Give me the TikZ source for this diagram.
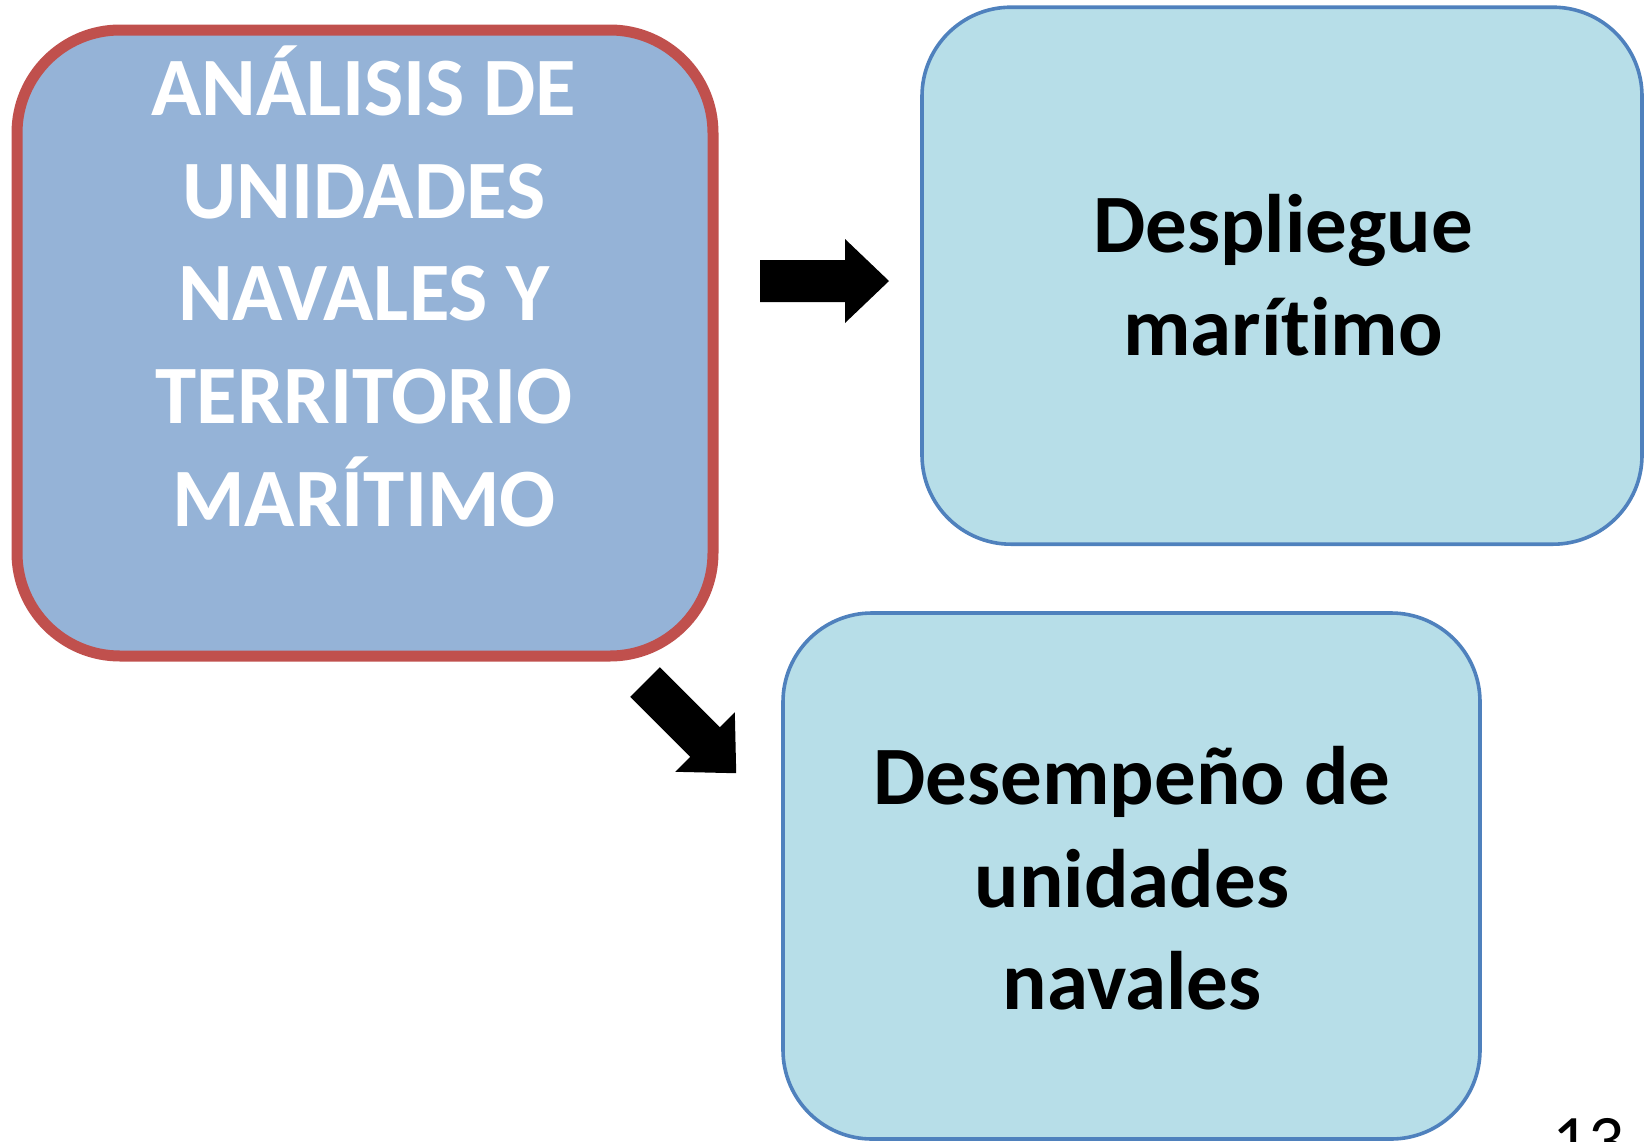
\documentclass[tikz,border=0pt]{standalone}
\usepackage{fontspec}
\setmainfont[Ligatures=NoCommon]{Carlito}

\definecolor{boxred}{HTML}{C0504D}
\definecolor{boxblue}{HTML}{95B3D7}
\definecolor{lineblue}{HTML}{4F81BD}
\definecolor{boxcyan}{HTML}{B7DEE8}

\tikzset{
  mainbox/.style={draw=boxred, fill=boxblue, line width=5.5pt, rounded corners=51.5pt, inner sep=0pt},
  sidebox/.style={draw=lineblue, fill=boxcyan, line width=1.8pt, rounded corners=44.5pt, inner sep=0pt},
  boxtext/.style={align=center, inner sep=0pt, font=\bfseries\fontsize{41.5}{51.3}\selectfont},
  blockarrow/.pic={
    \fill (0pt,-10.5pt) -- (42.5pt,-10.5pt) -- (42.5pt,-21pt) -- (64.5pt,0pt)
      -- (42.5pt,21pt) -- (42.5pt,10.5pt) -- (0pt,10.5pt) -- cycle;
  }
}

\begin{document}
\begin{tikzpicture}[x=0.5pt,y=-0.5pt]
\useasboundingbox (0,0) rectangle (1649,1141);

% boxes
\node[mainbox, minimum width=348pt, minimum height=313pt] (analisis) at (365,343) {};
\node[sidebox, minimum width=360pt, minimum height=268.5pt] (despliegue) at (1282,275.7) {};
\node[sidebox, minimum width=348.5pt, minimum height=263pt] (desempeno) at (1131.5,876) {};

% texts
\node[boxtext, text=white] (analisistxt) at (364,300.3)
  {\strut ANÁLISIS DE\\UNIDADES\\NAVALES Y\\TERRITORIO\\MARÍTIMO\strut};
\node[boxtext] (desplieguetxt) at (1283,283.5) {\strut Despliegue\\marítimo\strut};
\node[boxtext] (desempenotxt) at (1132,886.5) {\strut Desempeño de\\unidades\\navales\strut};

% arrows
\pic at (760,281) {blockarrow};
\pic[rotate=-45] at (645,682) {blockarrow};

% page number
\node[anchor=base, inner sep=0pt, font=\fontsize{35.5}{40}\selectfont] (pagenum) at (1588,1164) {13};
\end{tikzpicture}
\end{document}
